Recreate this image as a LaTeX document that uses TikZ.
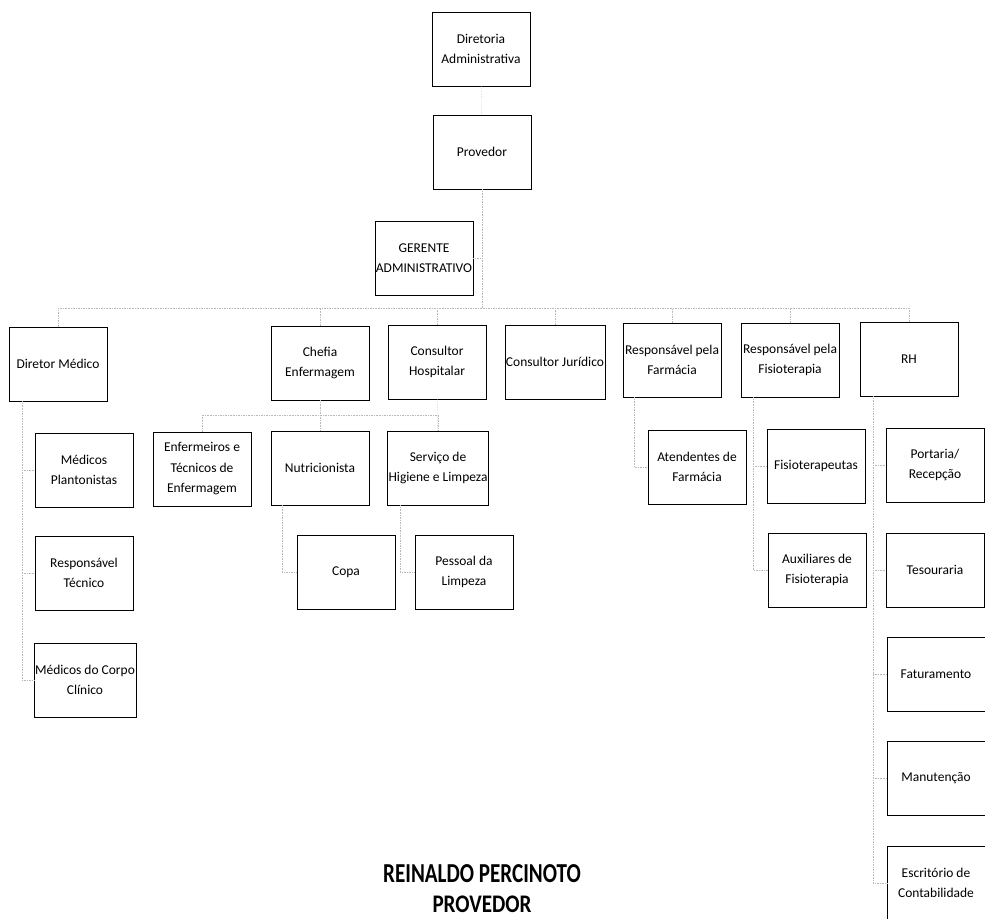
\documentclass[tikz,border=0pt]{standalone}
\usepackage{fontspec}
\setmainfont{Carlito}
\usepackage{tikz}
\usetikzlibrary{arrows}

\begin{document}
\begin{tikzpicture}[x=0.03cm, y=-0.03cm, % one unit = one pixel of the chart
	semithick % line style
	,box/.style={draw, thin, rectangle, align=center, minimum width=2.94cm,
		minimum height=2.22cm, inner sep=1pt, font=\fontsize{11.5}{17.5}\selectfont},
	link/.style={draw=gray!55, densely dotted, thin}]
	\useasboundingbox (0,0) rectangle (985,918);

	% top of the chart
	\node[box] (dir)    at (481,49)  {Diretoria\\Administrativa};
	\node[box] (prov)   at (482,152) {Provedor};
	\node[box] (ger)    at (424,258) {GERENTE\\ADMINISTRATIVO};

	% first row
	\node[box] (dm)     at (58,364)  {Diretor Médico};
	\node[box] (chefia) at (320,363) {Chefia\\Enfermagem};
	\node[box] (cons)   at (437,362) {Consultor\\Hospitalar};
	\node[box] (jur)    at (555,362) {Consultor Jurídico};
	\node[box] (farm)   at (672,360) {Responsável pela\\Farmácia};
	\node[box] (fisio)  at (790,360) {Responsável pela\\Fisioterapia};
	\node[box] (rh)     at (909,359) {RH};

	% second row
	\node[box] (mp)     at (84,470)  {Médicos\\Plantonistas};
	\node[box] (enf)    at (202,469) {Enfermeiros e\\Técnicos de\\Enfermagem};
	\node[box] (nutri)  at (320,468) {Nutricionista};
	\node[box] (serv)   at (438,468) {Serviço de\\Higiene e Limpeza};
	\node[box] (atend)  at (697,467) {Atendentes de\\Farmácia};
	\node[box] (fter)   at (816,466) {Fisioterapeutas};
	\node[box] (port)   at (935,465) {Portaria/\\Recepção};

	% third row and below
	\node[box] (rt)     at (84,573)  {Responsável\\Técnico};
	\node[box] (copa)   at (346,572) {Copa};
	\node[box] (pess)   at (464,572) {Pessoal da\\Limpeza};
	\node[box] (aux)    at (817,570) {Auxiliares de\\Fisioterapia};
	\node[box] (tes)    at (935,570) {Tesouraria};
	\node[box] (mcc)    at (85,680)  {Médicos do Corpo\\Clínico};
	\node[box] (fat)    at (936,674) {Faturamento};
	\node[box] (man)    at (936,778) {Manutenção};
	\node[box] (escr)   at (936,883) {Escritório de\\Contabilidade};

	% name under the chart
	\node (nome)  at (482,874) {\scalebox{1}[1.3]{\fontsize{18}{20}\selectfont\bfseries REINALDO PERCINOTO}};
	\node (cargo) at (482,904) {\scalebox{1}[1.2]{\fontsize{18}{20}\selectfont\bfseries PROVEDOR}};

	% bus lines
	\coordinate (spine) at (0,308);
	\coordinate (cbus)  at (0,415);
	\coordinate (dmx)   at (22,0);
	\coordinate (nx)    at (282,0);
	\coordinate (sx)    at (400,0);
	\coordinate (px)    at (634,0);
	\coordinate (fx)    at (753,0);
	\coordinate (rx)    at (873,0);

	\draw[link] (dir)--(prov);
	\draw[link] (prov)--(prov |- spine);
	\draw[link] (ger)--(ger -| prov);
	\draw[link] (dm |- spine)--(rh |- spine);
	\foreach \n in {dm,chefia,cons,jur,farm,fisio,rh}
		\draw[link] (\n)--(\n |- spine);

	\draw[link] (dm.south -| dmx) |- (mcc);
	\draw[link] (dmx |- mp)--(mp);
	\draw[link] (dmx |- rt)--(rt);

	\draw[link] (enf)--(enf |- cbus) -| (serv);
	\draw[link] (chefia)--(nutri);
	\draw[link] (cons)--(serv);
	\draw[link] (nutri.south -| nx) |- (copa);
	\draw[link] (serv.south -| sx) |- (pess);

	\draw[link] (farm.south -| px) |- (atend);
	\draw[link] (fisio.south -| fx) |- (aux);
	\draw[link] (fx |- fter)--(fter);

	\draw[link] (rh.south -| rx) |- (escr);
	\foreach \n in {port,tes,fat,man}
		\draw[link] (rx |- \n)--(\n);

\end{tikzpicture}
\end{document}
